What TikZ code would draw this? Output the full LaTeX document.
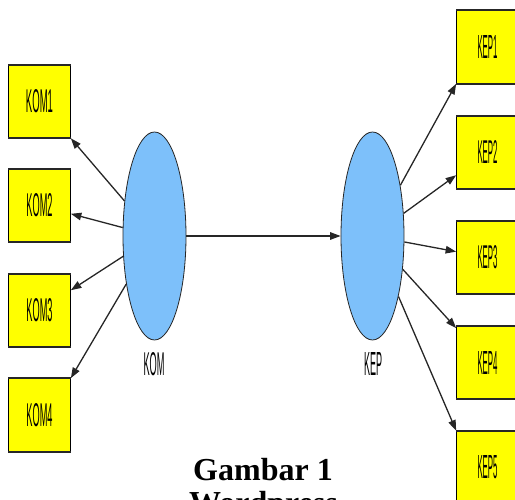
\documentclass[tikz,border=0pt]{standalone}
\usepackage{fontspec}
\setmainfont{Liberation Serif}
\setsansfont{Liberation Sans}
\usetikzlibrary{shapes.geometric,arrows.meta}
\definecolor{boxyellow}{RGB}{255,255,0}
\definecolor{latentblue}{RGB}{125,192,250}
% tall, condensed labels as used by the path-model drawing
\newcommand\slimtext[2]{\resizebox{#1pt}{23pt}{\sffamily #2}}

\begin{document}
\begin{tikzpicture}[x=1pt,y=-1pt,
  indicator/.style={rectangle,fill=boxyellow,draw=black,line width=0.7pt,
    minimum width=62pt,minimum height=73pt,inner sep=0pt},
  latent/.style={ellipse,fill=latentblue,draw=black!85,line width=0.8pt,
    minimum width=63pt,minimum height=208pt,inner sep=0pt},
  link/.style={draw=black!85,line width=1.3pt,-{Triangle[length=10.5pt,width=7.5pt]}},
  rim/.style={draw=black!85,line width=2pt},
  lbl/.style={inner sep=0pt},
  caption/.style={font=\bfseries\fontsize{32}{36}\selectfont,inner sep=0pt,anchor=base}]

\useasboundingbox (0,0) rectangle (515,500);
\clip (0,0) rectangle (515,500);

% latent variables
\node[latent] (kom) at (154.5,236) {};
\node[latent] (kep) at (372.5,236) {};
\node[lbl] (komlbl) at (154,364) {\slimtext{21}{KOM}};
\node[lbl] (keplbl) at (373,364) {\slimtext{18}{KEP}};

% indicators of KOM
\node[indicator] (kom1) at (39.5,101.5) {\slimtext{27}{KOM1}};
\node[indicator] (kom2) at (39.5,205.5) {\slimtext{26}{KOM2}};
\node[indicator] (kom3) at (39.5,310.5) {\slimtext{26}{KOM3}};
\node[indicator] (kom4) at (39.5,415)   {\slimtext{26}{KOM4}};

% indicators of KEP
\node[indicator] (kep1) at (487.5,47)    {\slimtext{20}{KEP1}};
\node[indicator] (kep2) at (487.5,152.5) {\slimtext{20}{KEP2}};
\node[indicator] (kep3) at (487.5,257.5) {\slimtext{20}{KEP3}};
\node[indicator] (kep4) at (487.5,362.5) {\slimtext{20}{KEP4}};
\node[indicator] (kep5) at (487.5,467.5) {\slimtext{20}{KEP5}};

% heavier top and bottom edges of the indicator boxes
\foreach \b in {kom1,kom2,kom3,kom4,kep1,kep2,kep3,kep4,kep5}{
  \draw[rim] (\b.north west) -- (\b.north east);
  \draw[rim] (\b.south west) -- (\b.south east);
}

% structural path
\draw[link] (kom) -- (kep);

% loadings
\draw[link] (kom) -- (kom1.south east);
\draw[link] (kom) -- (kom2);
\draw[link] (kom) -- (kom3);
\draw[link] (kom) -- (kom4.north east);

\draw[link] (kep) -- (kep1.south west);
\draw[link] (kep) -- (kep2);
\draw[link] (kep) -- (kep3);
\draw[link] (kep) -- (kep4);
\draw[link] (kep) -- (kep5.north west);

% caption (second line runs past the lower edge)
\node[caption] (cap1) at (263,480) {Gambar 1};
\node[caption] (cap2) at (263.5,513) {Wordpress};
\end{tikzpicture}
\end{document}
